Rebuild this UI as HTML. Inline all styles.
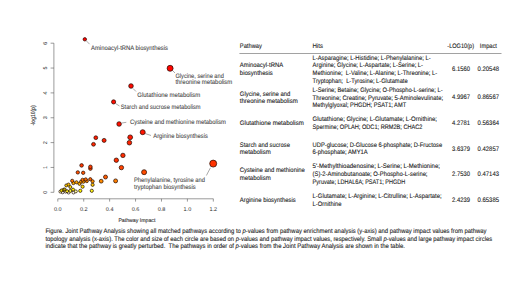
<!DOCTYPE html>
<html><head><meta charset="utf-8"><style>
html,body{margin:0;padding:0;background:#fff;}
svg{display:block;font-family:"Liberation Sans", sans-serif;} text{white-space:pre;text-rendering:geometricPrecision;}
</style></head><body>
<svg width="520" height="292" viewBox="0 0 520 292">
<rect width="520" height="292" fill="#fff"/>
<g stroke="#555" stroke-width="0.6" fill="none">
<line x1="53.9" y1="43.2" x2="53.9" y2="192.3"/>
<line x1="50.6" y1="192.30" x2="53.9" y2="192.30"/>
<line x1="50.6" y1="167.45" x2="53.9" y2="167.45"/>
<line x1="50.6" y1="142.60" x2="53.9" y2="142.60"/>
<line x1="50.6" y1="117.75" x2="53.9" y2="117.75"/>
<line x1="50.6" y1="92.90" x2="53.9" y2="92.90"/>
<line x1="50.6" y1="68.05" x2="53.9" y2="68.05"/>
<line x1="50.6" y1="43.20" x2="53.9" y2="43.20"/>
<line x1="57.8" y1="198.8" x2="213.4" y2="198.8"/>
<line x1="57.80" y1="198.8" x2="57.80" y2="201.6"/>
<line x1="83.72" y1="198.8" x2="83.72" y2="201.6"/>
<line x1="109.64" y1="198.8" x2="109.64" y2="201.6"/>
<line x1="135.56" y1="198.8" x2="135.56" y2="201.6"/>
<line x1="161.48" y1="198.8" x2="161.48" y2="201.6"/>
<line x1="187.40" y1="198.8" x2="187.40" y2="201.6"/>
<line x1="213.32" y1="198.8" x2="213.32" y2="201.6"/>
</g>
<text x="0" y="0" font-size="5.5" fill="#2a2a2a" text-anchor="middle" transform="translate(47.4 192.30) rotate(-90)">0</text>
<text x="0" y="0" font-size="5.5" fill="#2a2a2a" text-anchor="middle" transform="translate(47.4 167.45) rotate(-90)">1</text>
<text x="0" y="0" font-size="5.5" fill="#2a2a2a" text-anchor="middle" transform="translate(47.4 142.60) rotate(-90)">2</text>
<text x="0" y="0" font-size="5.5" fill="#2a2a2a" text-anchor="middle" transform="translate(47.4 117.75) rotate(-90)">3</text>
<text x="0" y="0" font-size="5.5" fill="#2a2a2a" text-anchor="middle" transform="translate(47.4 92.90) rotate(-90)">4</text>
<text x="0" y="0" font-size="5.5" fill="#2a2a2a" text-anchor="middle" transform="translate(47.4 68.05) rotate(-90)">5</text>
<text x="0" y="0" font-size="5.5" fill="#2a2a2a" text-anchor="middle" transform="translate(47.4 43.20) rotate(-90)">6</text>
<text x="57.80" y="210.6" font-size="5.5" fill="#2a2a2a" text-anchor="middle">0.0</text>
<text x="83.72" y="210.6" font-size="5.5" fill="#2a2a2a" text-anchor="middle">0.2</text>
<text x="109.64" y="210.6" font-size="5.5" fill="#2a2a2a" text-anchor="middle">0.4</text>
<text x="135.56" y="210.6" font-size="5.5" fill="#2a2a2a" text-anchor="middle">0.6</text>
<text x="161.48" y="210.6" font-size="5.5" fill="#2a2a2a" text-anchor="middle">0.8</text>
<text x="187.40" y="210.6" font-size="5.5" fill="#2a2a2a" text-anchor="middle">1.0</text>
<text x="213.32" y="210.6" font-size="5.5" fill="#2a2a2a" text-anchor="middle">1.2</text>
<text x="136.9" y="222.4" font-size="5.3" fill="#333" stroke="#333" stroke-width="0.12" text-anchor="middle" textLength="37" lengthAdjust="spacingAndGlyphs">Pathway Impact</text>
<text x="0" y="0" font-size="6.0" fill="#333" stroke="#333" stroke-width="0.15" text-anchor="middle" textLength="20" lengthAdjust="spacingAndGlyphs" transform="translate(35.2 115.4) rotate(-90)">-log10(p)</text>
<g stroke="#555" stroke-width="0.5">
<line x1="86" y1="40.5" x2="89.6" y2="44.2"/>
<line x1="172.5" y1="70.5" x2="175" y2="73"/>
<line x1="133" y1="88.5" x2="136" y2="91.5"/>
<line x1="115.5" y1="103.5" x2="119.5" y2="106"/>
<line x1="122" y1="123" x2="126.3" y2="122.3"/>
<line x1="145" y1="133.5" x2="151" y2="135.5"/>
<line x1="210.4" y1="167.8" x2="206.4" y2="175.5"/>
</g>
<circle cx="68.6" cy="192.5" r="1.5" fill="#ffffff" stroke="#200800" stroke-width="0.7"/>
<circle cx="73.5" cy="192.5" r="1.5" fill="#ffffff" stroke="#200800" stroke-width="0.7"/>
<circle cx="62.6" cy="192.3" r="1.5" fill="#ffffff" stroke="#200800" stroke-width="0.7"/>
<circle cx="60.4" cy="191.6" r="1.5" fill="#f8f8c0" stroke="#200800" stroke-width="0.7"/>
<circle cx="65.6" cy="191.6" r="1.5" fill="#ffffe0" stroke="#200800" stroke-width="0.7"/>
<circle cx="75.8" cy="191.4" r="1.5" fill="#ffffa0" stroke="#200800" stroke-width="0.7"/>
<circle cx="67.1" cy="191.2" r="1.5" fill="#ffee20" stroke="#200800" stroke-width="0.7"/>
<circle cx="70.3" cy="190.9" r="1.5" fill="#fffa33" stroke="#200800" stroke-width="0.7"/>
<circle cx="80.3" cy="190.8" r="1.6" fill="#fff800" stroke="#200800" stroke-width="0.7"/>
<circle cx="91.8" cy="190.8" r="1.6" fill="#fff919" stroke="#200800" stroke-width="0.7"/>
<circle cx="61.6" cy="190.4" r="1.5" fill="#ffee00" stroke="#200800" stroke-width="0.7"/>
<circle cx="63.6" cy="189.8" r="1.5" fill="#e8e000" stroke="#200800" stroke-width="0.7"/>
<circle cx="73.1" cy="189.6" r="1.5" fill="#fff700" stroke="#200800" stroke-width="0.7"/>
<circle cx="64.6" cy="189.4" r="1.5" fill="#b0a000" stroke="#200800" stroke-width="0.7"/>
<circle cx="70.3" cy="187.0" r="1.5" fill="#ffe500" stroke="#200800" stroke-width="0.7"/>
<circle cx="82.6" cy="186.7" r="1.6" fill="#ffdd00" stroke="#200800" stroke-width="0.7"/>
<circle cx="66.3" cy="185.4" r="1.5" fill="#ffd300" stroke="#200800" stroke-width="0.7"/>
<circle cx="92.6" cy="184.8" r="1.6" fill="#ffc900" stroke="#200800" stroke-width="0.7"/>
<circle cx="68.5" cy="184.5" r="1.5" fill="#ffbf00" stroke="#200800" stroke-width="0.7"/>
<circle cx="79.5" cy="183.8" r="1.6" fill="#ffb800" stroke="#200800" stroke-width="0.7"/>
<circle cx="73.4" cy="183.1" r="1.6" fill="#ffb000" stroke="#200800" stroke-width="0.7"/>
<circle cx="76.5" cy="182.3" r="1.6" fill="#ffa800" stroke="#200800" stroke-width="0.7"/>
<circle cx="81.1" cy="181.7" r="1.6" fill="#ff9900" stroke="#200800" stroke-width="0.7"/>
<circle cx="83.4" cy="181.7" r="1.6" fill="#ffa100" stroke="#200800" stroke-width="0.7"/>
<circle cx="92.6" cy="181.3" r="1.6" fill="#ff9200" stroke="#200800" stroke-width="0.7"/>
<circle cx="101.2" cy="181.2" r="1.9" fill="#ff8b00" stroke="#200800" stroke-width="0.7"/>
<circle cx="86.8" cy="181.1" r="1.6" fill="#ff8500" stroke="#200800" stroke-width="0.7"/>
<circle cx="115.6" cy="180.9" r="2.0" fill="#ff7e00" stroke="#200800" stroke-width="0.7"/>
<circle cx="72.2" cy="180.8" r="1.6" fill="#ff7700" stroke="#200800" stroke-width="0.7"/>
<circle cx="82.6" cy="179.8" r="1.6" fill="#ff7000" stroke="#200800" stroke-width="0.7"/>
<circle cx="85.7" cy="179.4" r="1.6" fill="#ff6900" stroke="#200800" stroke-width="0.7"/>
<circle cx="90.3" cy="179.2" r="1.6" fill="#ff6300" stroke="#200800" stroke-width="0.7"/>
<circle cx="105.5" cy="177.0" r="2.0" fill="#ff5c00" stroke="#200800" stroke-width="0.7"/>
<circle cx="83.2" cy="172.8" r="1.7" fill="#ff5500" stroke="#200800" stroke-width="0.7"/>
<circle cx="77.8" cy="172.4" r="1.7" fill="#ff5000" stroke="#200800" stroke-width="0.7"/>
<circle cx="144.1" cy="172.2" r="2.5" fill="#ff4b00" stroke="#200800" stroke-width="0.7"/>
<circle cx="90.4" cy="168.6" r="1.8" fill="#ff4600" stroke="#200800" stroke-width="0.7"/>
<circle cx="121.4" cy="167.6" r="2.2" fill="#ff4200" stroke="#200800" stroke-width="0.7"/>
<circle cx="90.4" cy="166.8" r="1.8" fill="#ff3d00" stroke="#200800" stroke-width="0.7"/>
<circle cx="81.6" cy="165.4" r="1.8" fill="#ff3800" stroke="#200800" stroke-width="0.7"/>
<circle cx="213.2" cy="163.6" r="3.5" fill="#ff3300" stroke="#200800" stroke-width="0.7"/>
<circle cx="116.3" cy="160.2" r="2.2" fill="#ff2f00" stroke="#200800" stroke-width="0.7"/>
<circle cx="122.9" cy="155.4" r="2.2" fill="#ff2b00" stroke="#200800" stroke-width="0.7"/>
<circle cx="93.5" cy="144.3" r="1.9" fill="#ff2700" stroke="#200800" stroke-width="0.7"/>
<circle cx="129.4" cy="142.7" r="2.3" fill="#ff2300" stroke="#200800" stroke-width="0.7"/>
<circle cx="104.1" cy="140.4" r="2.0" fill="#ff1f00" stroke="#200800" stroke-width="0.7"/>
<circle cx="95.8" cy="137.7" r="1.9" fill="#ff1b00" stroke="#200800" stroke-width="0.7"/>
<circle cx="130.2" cy="137.3" r="2.4" fill="#ff1800" stroke="#200800" stroke-width="0.7"/>
<circle cx="142.7" cy="132.2" r="2.5" fill="#ff1400" stroke="#200800" stroke-width="0.7"/>
<circle cx="119.1" cy="124.0" r="2.3" fill="#ff1000" stroke="#200800" stroke-width="0.7"/>
<circle cx="113.6" cy="101.9" r="2.1" fill="#ff0c00" stroke="#200800" stroke-width="0.7"/>
<circle cx="131" cy="86" r="2.3" fill="#ff0800" stroke="#200800" stroke-width="0.7"/>
<circle cx="170.1" cy="68.3" r="3.0" fill="#ff0400" stroke="#200800" stroke-width="0.7"/>
<circle cx="84.8" cy="39.3" r="1.7" fill="#ff0000" stroke="#200800" stroke-width="0.7"/>
<text x="0" y="0" transform="translate(91 50.4) scale(1 1.08)" font-size="6.0" fill="#454545" text-anchor="start" textLength="77" lengthAdjust="spacingAndGlyphs" stroke="#454545" stroke-width="0.08">Aminoacyl-tRNA biosynthesis</text>
<text x="0" y="0" transform="translate(175.4 77.6) scale(1 1.08)" font-size="6.0" fill="#454545" text-anchor="start" textLength="48.4" lengthAdjust="spacingAndGlyphs" stroke="#454545" stroke-width="0.08">Glycine, serine and</text>
<text x="0" y="0" transform="translate(175.4 84.4) scale(1 1.08)" font-size="6.0" fill="#454545" text-anchor="start" textLength="56.9" lengthAdjust="spacingAndGlyphs" stroke="#454545" stroke-width="0.08">threonine metabolism</text>
<text x="0" y="0" transform="translate(137.3 96.6) scale(1 1.08)" font-size="6.0" fill="#454545" text-anchor="start" textLength="62.9" lengthAdjust="spacingAndGlyphs" stroke="#454545" stroke-width="0.08">Glutathione metabolism</text>
<text x="0" y="0" transform="translate(120.8 108.8) scale(1 1.08)" font-size="6.0" fill="#454545" text-anchor="start" textLength="79.8" lengthAdjust="spacingAndGlyphs" stroke="#454545" stroke-width="0.08">Starch and sucrose metabolism</text>
<text x="0" y="0" transform="translate(130 124.4) scale(1 1.08)" font-size="6.0" fill="#454545" text-anchor="start" textLength="96" lengthAdjust="spacingAndGlyphs" stroke="#454545" stroke-width="0.08">Cysteine and methionine metabolism</text>
<text x="0" y="0" transform="translate(153.3 138.3) scale(1 1.08)" font-size="6.0" fill="#454545" text-anchor="start" textLength="54.5" lengthAdjust="spacingAndGlyphs" stroke="#454545" stroke-width="0.08">Arginine biosynthesis</text>
<text x="0" y="0" transform="translate(134 182.0) scale(1 1.08)" font-size="6.0" fill="#454545" text-anchor="start" textLength="71" lengthAdjust="spacingAndGlyphs" stroke="#454545" stroke-width="0.08">Phenylalanine, tyrosine and</text>
<text x="0" y="0" transform="translate(134 189.3) scale(1 1.08)" font-size="6.0" fill="#454545" text-anchor="start" textLength="61.8" lengthAdjust="spacingAndGlyphs" stroke="#454545" stroke-width="0.08">tryptophan biosynthesis</text>
<text x="0" y="0" transform="translate(239.8 48.3) scale(1 1.06)" font-size="6.2" fill="#1a1a1a" text-anchor="start" textLength="22.1" lengthAdjust="spacingAndGlyphs" stroke="#1a1a1a" stroke-width="0.1">Pathway</text>
<text x="0" y="0" transform="translate(312.5 48.3) scale(1 1.06)" font-size="6.2" fill="#1a1a1a" text-anchor="start" textLength="10.4" lengthAdjust="spacingAndGlyphs" stroke="#1a1a1a" stroke-width="0.1">Hits</text>
<text x="0" y="0" transform="translate(447.3 48.3) scale(1 1.06)" font-size="6.2" fill="#1a1a1a" text-anchor="start" textLength="26.7" lengthAdjust="spacingAndGlyphs" stroke="#1a1a1a" stroke-width="0.1">-LOG10(p)</text>
<text x="0" y="0" transform="translate(479.8 48.3) scale(1 1.06)" font-size="6.2" fill="#1a1a1a" text-anchor="start" textLength="17.1" lengthAdjust="spacingAndGlyphs" stroke="#1a1a1a" stroke-width="0.1">Impact</text>
<line x1="239.4" y1="53.5" x2="501.5" y2="53.5" stroke="#8a8a8a" stroke-width="0.8"/>
<text x="0" y="0" transform="translate(239.8 67.4) scale(1 1.06)" font-size="6.2" fill="#1a1a1a" text-anchor="start" textLength="43.3" lengthAdjust="spacingAndGlyphs" stroke="#1a1a1a" stroke-width="0.1">Aminoacyl-tRNA</text>
<text x="0" y="0" transform="translate(239.8 75.0) scale(1 1.06)" font-size="6.2" fill="#1a1a1a" text-anchor="start" textLength="33.0" lengthAdjust="spacingAndGlyphs" stroke="#1a1a1a" stroke-width="0.1">biosynthesis</text>
<text x="0" y="0" transform="translate(312.6 59.8) scale(1 1.06)" font-size="6.2" fill="#1a1a1a" text-anchor="start" textLength="118.0" lengthAdjust="spacingAndGlyphs" stroke="#1a1a1a" stroke-width="0.1">L-Asparagine; L-Histidine; L-Phenylalanine; L-</text>
<text x="0" y="0" transform="translate(312.6 67.4) scale(1 1.06)" font-size="6.2" fill="#1a1a1a" text-anchor="start" textLength="110.4" lengthAdjust="spacingAndGlyphs" stroke="#1a1a1a" stroke-width="0.1">Arginine; Glycine; L-Aspartate; L-Serine; L-</text>
<text x="0" y="0" transform="translate(312.6 75.1) scale(1 1.06)" font-size="6.2" fill="#1a1a1a" text-anchor="start" textLength="124.6" lengthAdjust="spacingAndGlyphs" stroke="#1a1a1a" stroke-width="0.1">Methionine;  L-Valine; L-Alanine; L-Threonine; L-</text>
<text x="0" y="0" transform="translate(312.6 82.7) scale(1 1.06)" font-size="6.2" fill="#1a1a1a" text-anchor="start" textLength="95.0" lengthAdjust="spacingAndGlyphs" stroke="#1a1a1a" stroke-width="0.1">Tryptophan;  L-Tyrosine; L-Glutamate</text>
<text x="0" y="0" transform="translate(452 71.4) scale(1 1.06)" font-size="6.2" fill="#1a1a1a" text-anchor="start" textLength="17.9" lengthAdjust="spacingAndGlyphs" stroke="#1a1a1a" stroke-width="0.1">6.1560</text>
<text x="0" y="0" transform="translate(477.6 71.4) scale(1 1.06)" font-size="6.2" fill="#1a1a1a" text-anchor="start" textLength="21.4" lengthAdjust="spacingAndGlyphs" stroke="#1a1a1a" stroke-width="0.1">0.20548</text>
<text x="0" y="0" transform="translate(239.8 95.7) scale(1 1.06)" font-size="6.2" fill="#1a1a1a" text-anchor="start" textLength="50.5" lengthAdjust="spacingAndGlyphs" stroke="#1a1a1a" stroke-width="0.1">Glycine, serine and</text>
<text x="0" y="0" transform="translate(239.8 103.3) scale(1 1.06)" font-size="6.2" fill="#1a1a1a" text-anchor="start" textLength="57.9" lengthAdjust="spacingAndGlyphs" stroke="#1a1a1a" stroke-width="0.1">threonine metabolism</text>
<text x="0" y="0" transform="translate(312.6 91.9) scale(1 1.06)" font-size="6.2" fill="#1a1a1a" text-anchor="start" textLength="130.0" lengthAdjust="spacingAndGlyphs" stroke="#1a1a1a" stroke-width="0.1">L-Serine; Betaine; Glycine; O-Phospho-L-serine; L-</text>
<text x="0" y="0" transform="translate(312.6 99.5) scale(1 1.06)" font-size="6.2" fill="#1a1a1a" text-anchor="start" textLength="130.5" lengthAdjust="spacingAndGlyphs" stroke="#1a1a1a" stroke-width="0.1">Threonine; Creatine; Pyruvate; 5-Aminolevulinate;</text>
<text x="0" y="0" transform="translate(312.6 107.1) scale(1 1.06)" font-size="6.2" fill="#1a1a1a" text-anchor="start" textLength="93.5" lengthAdjust="spacingAndGlyphs" stroke="#1a1a1a" stroke-width="0.1">Methylglyoxal; PHGDH; PSAT1; AMT</text>
<text x="0" y="0" transform="translate(452 99.4) scale(1 1.06)" font-size="6.2" fill="#1a1a1a" text-anchor="start" textLength="17.9" lengthAdjust="spacingAndGlyphs" stroke="#1a1a1a" stroke-width="0.1">4.9967</text>
<text x="0" y="0" transform="translate(477.6 99.4) scale(1 1.06)" font-size="6.2" fill="#1a1a1a" text-anchor="start" textLength="21.4" lengthAdjust="spacingAndGlyphs" stroke="#1a1a1a" stroke-width="0.1">0.86567</text>
<text x="0" y="0" transform="translate(239.8 125.0) scale(1 1.06)" font-size="6.2" fill="#1a1a1a" text-anchor="start" textLength="64.0" lengthAdjust="spacingAndGlyphs" stroke="#1a1a1a" stroke-width="0.1">Glutathione metabolism</text>
<text x="0" y="0" transform="translate(312.6 121.2) scale(1 1.06)" font-size="6.2" fill="#1a1a1a" text-anchor="start" textLength="124.4" lengthAdjust="spacingAndGlyphs" stroke="#1a1a1a" stroke-width="0.1">Glutathione; Glycine; L-Glutamate; L-Ornithine;</text>
<text x="0" y="0" transform="translate(312.6 128.8) scale(1 1.06)" font-size="6.2" fill="#1a1a1a" text-anchor="start" textLength="109.9" lengthAdjust="spacingAndGlyphs" stroke="#1a1a1a" stroke-width="0.1">Spermine; OPLAH; ODC1; RRM2B; CHAC2</text>
<text x="0" y="0" transform="translate(452 125.1) scale(1 1.06)" font-size="6.2" fill="#1a1a1a" text-anchor="start" textLength="17.9" lengthAdjust="spacingAndGlyphs" stroke="#1a1a1a" stroke-width="0.1">4.2781</text>
<text x="0" y="0" transform="translate(477.6 125.1) scale(1 1.06)" font-size="6.2" fill="#1a1a1a" text-anchor="start" textLength="21.4" lengthAdjust="spacingAndGlyphs" stroke="#1a1a1a" stroke-width="0.1">0.56364</text>
<text x="0" y="0" transform="translate(239.8 146.7) scale(1 1.06)" font-size="6.2" fill="#1a1a1a" text-anchor="start" textLength="50.1" lengthAdjust="spacingAndGlyphs" stroke="#1a1a1a" stroke-width="0.1">Starch and sucrose</text>
<text x="0" y="0" transform="translate(239.8 154.3) scale(1 1.06)" font-size="6.2" fill="#1a1a1a" text-anchor="start" textLength="30.9" lengthAdjust="spacingAndGlyphs" stroke="#1a1a1a" stroke-width="0.1">metabolism</text>
<text x="0" y="0" transform="translate(312.6 146.7) scale(1 1.06)" font-size="6.2" fill="#1a1a1a" text-anchor="start" textLength="129.5" lengthAdjust="spacingAndGlyphs" stroke="#1a1a1a" stroke-width="0.1">UDP-glucose; D-Glucose 6-phosphate; D-Fructose</text>
<text x="0" y="0" transform="translate(312.6 154.3) scale(1 1.06)" font-size="6.2" fill="#1a1a1a" text-anchor="start" textLength="55.1" lengthAdjust="spacingAndGlyphs" stroke="#1a1a1a" stroke-width="0.1">6-phosphate; AMY1A</text>
<text x="0" y="0" transform="translate(452 150.5) scale(1 1.06)" font-size="6.2" fill="#1a1a1a" text-anchor="start" textLength="17.9" lengthAdjust="spacingAndGlyphs" stroke="#1a1a1a" stroke-width="0.1">3.6379</text>
<text x="0" y="0" transform="translate(477.6 150.5) scale(1 1.06)" font-size="6.2" fill="#1a1a1a" text-anchor="start" textLength="21.4" lengthAdjust="spacingAndGlyphs" stroke="#1a1a1a" stroke-width="0.1">0.42857</text>
<text x="0" y="0" transform="translate(239.8 172.2) scale(1 1.06)" font-size="6.2" fill="#1a1a1a" text-anchor="start" textLength="65.0" lengthAdjust="spacingAndGlyphs" stroke="#1a1a1a" stroke-width="0.1">Cysteine and methionine</text>
<text x="0" y="0" transform="translate(239.8 179.8) scale(1 1.06)" font-size="6.2" fill="#1a1a1a" text-anchor="start" textLength="30.9" lengthAdjust="spacingAndGlyphs" stroke="#1a1a1a" stroke-width="0.1">metabolism</text>
<text x="0" y="0" transform="translate(312.6 168.4) scale(1 1.06)" font-size="6.2" fill="#1a1a1a" text-anchor="start" textLength="127.3" lengthAdjust="spacingAndGlyphs" stroke="#1a1a1a" stroke-width="0.1">5'-Methylthioadenosine; L-Serine; L-Methionine;</text>
<text x="0" y="0" transform="translate(312.6 176.0) scale(1 1.06)" font-size="6.2" fill="#1a1a1a" text-anchor="start" textLength="114.9" lengthAdjust="spacingAndGlyphs" stroke="#1a1a1a" stroke-width="0.1">(S)-2-Aminobutanoate; O-Phospho-L-serine;</text>
<text x="0" y="0" transform="translate(312.6 183.6) scale(1 1.06)" font-size="6.2" fill="#1a1a1a" text-anchor="start" textLength="92.7" lengthAdjust="spacingAndGlyphs" stroke="#1a1a1a" stroke-width="0.1">Pyruvate; LDHAL6A; PSAT1; PHGDH</text>
<text x="0" y="0" transform="translate(452 175.9) scale(1 1.06)" font-size="6.2" fill="#1a1a1a" text-anchor="start" textLength="17.9" lengthAdjust="spacingAndGlyphs" stroke="#1a1a1a" stroke-width="0.1">2.7530</text>
<text x="0" y="0" transform="translate(477.6 175.9) scale(1 1.06)" font-size="6.2" fill="#1a1a1a" text-anchor="start" textLength="21.4" lengthAdjust="spacingAndGlyphs" stroke="#1a1a1a" stroke-width="0.1">0.47143</text>
<text x="0" y="0" transform="translate(239.8 201.7) scale(1 1.06)" font-size="6.2" fill="#1a1a1a" text-anchor="start" textLength="55.9" lengthAdjust="spacingAndGlyphs" stroke="#1a1a1a" stroke-width="0.1">Arginine biosynthesis</text>
<text x="0" y="0" transform="translate(312.6 197.9) scale(1 1.06)" font-size="6.2" fill="#1a1a1a" text-anchor="start" textLength="129.0" lengthAdjust="spacingAndGlyphs" stroke="#1a1a1a" stroke-width="0.1">L-Glutamate; L-Arginine; L-Citrulline; L-Aspartate;</text>
<text x="0" y="0" transform="translate(312.6 205.5) scale(1 1.06)" font-size="6.2" fill="#1a1a1a" text-anchor="start" textLength="28.9" lengthAdjust="spacingAndGlyphs" stroke="#1a1a1a" stroke-width="0.1">L-Ornithine</text>
<text x="0" y="0" transform="translate(452 201.7) scale(1 1.06)" font-size="6.2" fill="#1a1a1a" text-anchor="start" textLength="17.9" lengthAdjust="spacingAndGlyphs" stroke="#1a1a1a" stroke-width="0.1">2.4239</text>
<text x="0" y="0" transform="translate(477.6 201.7) scale(1 1.06)" font-size="6.2" fill="#1a1a1a" text-anchor="start" textLength="21.4" lengthAdjust="spacingAndGlyphs" stroke="#1a1a1a" stroke-width="0.1">0.65385</text>
<text x="0" y="0" transform="translate(45.4 232.9) scale(1 1.06)" font-size="6.2" fill="#1a1a1a" text-anchor="start" textLength="441.1" lengthAdjust="spacingAndGlyphs" stroke="#1a1a1a" stroke-width="0.1">Figure. Joint Pathway Analysis showing all matched pathways according to <tspan font-style="italic">p</tspan>-values from pathway enrichment analysis (y-axis) and pathway impact values from pathway</text>
<text x="0" y="0" transform="translate(45.4 240.8) scale(1 1.06)" font-size="6.2" fill="#1a1a1a" text-anchor="start" textLength="446.8" lengthAdjust="spacingAndGlyphs" stroke="#1a1a1a" stroke-width="0.1">topology analysis (x-axis). The color and size of each circle are based on <tspan font-style="italic">p</tspan>-values and pathway impact values, respectively. Small <tspan font-style="italic">p</tspan>-values and large pathway impact circles</text>
<text x="0" y="0" transform="translate(45.4 248.3) scale(1 1.06)" font-size="6.2" fill="#1a1a1a" text-anchor="start" textLength="359.6" lengthAdjust="spacingAndGlyphs" stroke="#1a1a1a" stroke-width="0.1">indicate that the pathway is greatly perturbed.  The pathways in order of <tspan font-style="italic">p</tspan>-values from the Joint Pathway Analysis are shown in the table.</text>
</svg>
</body></html>
